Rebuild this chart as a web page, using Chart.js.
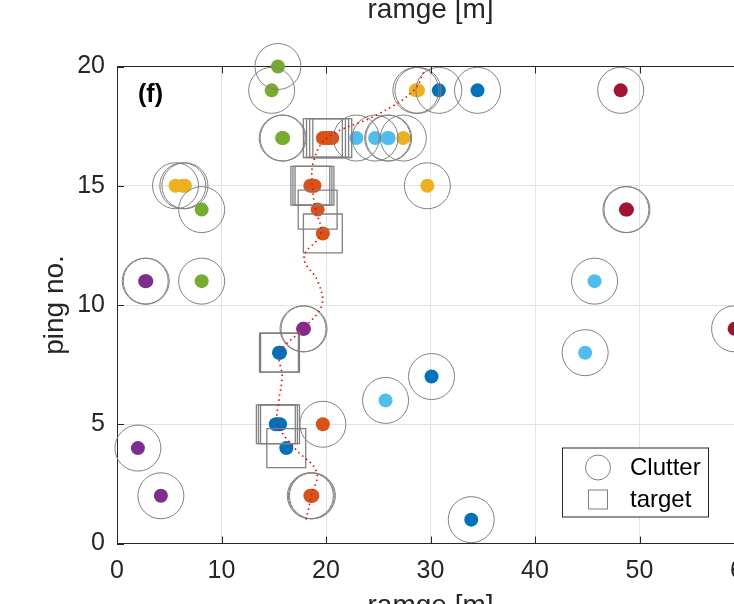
<!DOCTYPE html>
<html>
<head>
<meta charset="utf-8">
<script src="https://cdn.jsdelivr.net/npm/chart.js@4/dist/chart.umd.min.js"></script>
<style>
  html, body { margin: 0; padding: 0; background: #fff; overflow: hidden; }
  #wrap { position: relative; width: 734px; height: 604px; overflow: hidden; }
  #chart { position: absolute; left: 0; top: -20px; }
</style>
</head>
<body>
<div id="wrap"><canvas id="chart" width="800" height="660"></canvas></div>
<script>
// detections as [range (m), ping no.], grouped by marker colour
const clutterBlue = [[30.8, 19], [34.5, 19], [30.1, 7], [33.9, 1]];
const clutterOrange = [[19.7, 5], [18.5, 2], [18.6, 2], [18.7, 2]];
const clutterYellow = [[28.6, 19], [28.8, 19], [27.4, 17], [5.6, 15], [6.3, 15], [6.5, 15], [29.7, 15]];
const clutterPurple = [[2.7, 11], [2.8, 11], [17.8, 9], [17.9, 9], [2.0, 4], [4.2, 2]];
const clutterGreen = [[15.4, 20], [14.8, 19], [15.8, 17], [15.9, 17], [8.1, 14], [8.1, 11]];
const clutterCyan = [[22.9, 17], [24.7, 17], [25.9, 17], [26.0, 17], [45.7, 11], [44.8, 8], [25.7, 6]];
const clutterRed = [[48.2, 19], [48.7, 14], [48.8, 14], [59.1, 9]];

const targetBlue = [[15.5, 8], [15.6, 8], [15.2, 5], [15.4, 5], [15.6, 5], [16.2, 4]];
const targetOrange = [[19.7, 17], [20.0, 17], [20.3, 17], [20.6, 17], [18.5, 15], [18.7, 15], [18.9, 15], [19.2, 14], [19.7, 13]];

// smoothed target track
const trackRange = [18.1, 18.6, 19.1, 17.0, 15.4, 15.5, 15.8, 15.6, 17.8, 19.6, 19.2, 17.9, 19.5, 19.0, 18.7, 18.8, 20.1, 25.0, 28.4, 29.5];
const trackPing = [1, 2, 3, 4, 5, 6, 7, 8, 9, 10, 11, 12, 13, 14, 15, 16, 17, 18, 19, 19.9];

const xTicks = [0, 10, 20, 30, 40, 50, 60];
const yTicks = [0, 5, 10, 15, 20];

const FONT = "'Liberation Sans', Arial, Helvetica, sans-serif";
const AX = '#262626';
const RING = '#808080';

const pts = arr => arr.map(p => ({ x: p[0], y: p[1] }));
const dots = (arr, color) => ({
  data: pts(arr), backgroundColor: color, borderWidth: 0,
  pointRadius: 7, pointStyle: 'circle', showLine: false, clip: false
});

const allClutter = [].concat(clutterBlue, clutterOrange, clutterYellow, clutterPurple, clutterGreen, clutterCyan, clutterRed);
const allTarget = [].concat(targetBlue, targetOrange);

const frame = {
  id: 'frame',
  afterDraw(chart) {
    const { ctx, chartArea: a, scales: { x, y } } = chart;
    ctx.save();
    // inward ticks
    ctx.strokeStyle = AX;
    ctx.lineWidth = 1;
    ctx.beginPath();
    xTicks.forEach(v => {
      const px = Math.round(x.getPixelForValue(v)) + 0.5;
      ctx.moveTo(px, a.bottom); ctx.lineTo(px, a.bottom - 7);
      ctx.moveTo(px, a.top); ctx.lineTo(px, a.top + 7);
    });
    yTicks.forEach(v => {
      const py = Math.round(y.getPixelForValue(v)) + 0.5;
      ctx.moveTo(a.left, py); ctx.lineTo(a.left + 7, py);
    });
    ctx.stroke();

    // panel label
    ctx.fillStyle = '#000';
    ctx.font = 'bold 25px ' + FONT;
    ctx.textBaseline = 'middle';
    ctx.textAlign = 'left';
    ctx.fillText('(f)', a.left + 21, a.top + 29);

    // legend box
    const bx = a.right - 182, by = a.bottom - 96, bw = 146, bh = 69;
    ctx.fillStyle = '#fff';
    ctx.fillRect(bx, by, bw, bh);
    ctx.strokeStyle = AX;
    ctx.strokeRect(bx + 0.5, by + 0.5, bw, bh);
    ctx.strokeStyle = RING;
    ctx.beginPath();
    ctx.arc(bx + 36, by + 20, 12.5, 0, Math.PI * 2);
    ctx.stroke();
    ctx.strokeRect(bx + 26.5, by + 42.5, 19, 19);
    ctx.fillStyle = '#000';
    ctx.font = '24px ' + FONT;
    ctx.fillText('Clutter', bx + 68, by + 21);
    ctx.fillText('target', bx + 68, by + 53);
    ctx.restore();
  }
};

new Chart(document.getElementById('chart'), {
  type: 'scatter',
  data: {
    datasets: [
      {
        data: trackRange.map((r, i) => ({ x: r, y: trackPing[i] })),
        showLine: true, borderColor: '#ff0000', borderWidth: 1.6, borderDash: [1.5, 3.5],
        tension: 0.4, pointRadius: 0, fill: false
      },
      {
        data: pts(allClutter), pointStyle: 'circle', pointRadius: 23,
        backgroundColor: 'rgba(0,0,0,0)', borderColor: RING, borderWidth: 1, clip: false
      },
      {
        data: pts(allTarget), pointStyle: 'rect', pointRadius: 27.5,
        backgroundColor: 'rgba(0,0,0,0)', borderColor: RING, borderWidth: 1.3, clip: false
      },
      dots(clutterBlue.concat(targetBlue), '#0072BD'),
      dots(clutterOrange.concat(targetOrange), '#D95319'),
      dots(clutterYellow, '#EDB120'),
      dots(clutterPurple, '#7E2F8E'),
      dots(clutterGreen, '#77AC30'),
      dots(clutterCyan, '#4DBEEE'),
      dots(clutterRed, '#A2142F')
    ]
  },
  options: {
    responsive: false,
    animation: false,
    events: [],
    layout: { padding: { right: 56 } },
    plugins: { legend: { display: false }, tooltip: { enabled: false } },
    scales: {
      x: {
        type: 'linear', position: 'bottom', min: 0, max: 60,
        afterBuildTicks: s => { s.ticks = xTicks.map(v => ({ value: v })); },
        afterFit: s => { s.height = 96.5; },
        grid: { color: '#e2e2e2', drawTicks: false },
        border: { color: AX, width: 1 },
        ticks: { padding: 13, color: AX, font: { family: FONT, size: 25 } },
        title: { display: true, text: 'ramge [m]', color: AX, padding: { top: 0, bottom: 17 }, font: { family: FONT, size: 28 } }
      },
      x2: {
        type: 'linear', position: 'top', min: 0, max: 60,
        afterFit: s => { s.height = 86.5; },
        grid: { display: false, drawTicks: false },
        border: { color: AX, width: 1 },
        ticks: { display: false },
        title: { display: true, text: 'ramge [m]', color: AX, padding: { top: 13.4, bottom: 0 }, font: { family: FONT, size: 28 } }
      },
      y: {
        type: 'linear', position: 'left', min: 0, max: 20,
        afterBuildTicks: s => { s.ticks = yTicks.map(v => ({ value: v })); },
        afterFit: s => { s.width = 117; },
        grid: { color: '#e2e2e2', drawTicks: false },
        border: { color: AX, width: 1 },
        ticks: { padding: 12, color: AX, font: { family: FONT, size: 25 } },
        title: { display: true, text: 'ping no.', color: AX, padding: { top: 38.4, bottom: 0 }, font: { family: FONT, size: 28 } }
      }
    }
  },
  plugins: [frame]
});
</script>
</body>
</html>
